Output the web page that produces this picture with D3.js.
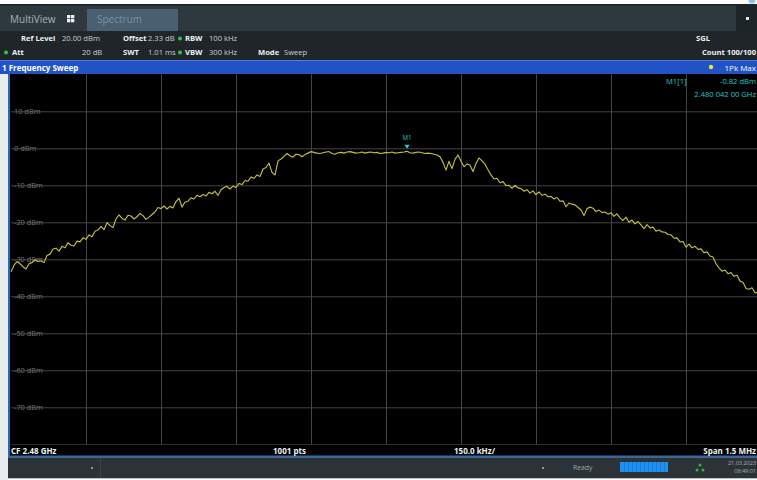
<!DOCTYPE html>
<html><head><meta charset="utf-8">
<script src="https://cdn.jsdelivr.net/npm/d3@7"></script>
<style>
html,body{margin:0;padding:0;background:#fff;overflow:hidden}
svg{display:block;font-family:"Open Sans","Noto Sans",sans-serif}
</style></head><body>
<svg id="chart" width="757" height="480"></svg>
<script>
// Sweep setup
const centerFreqKHz = 2480000;
const spanKHz = 1500;
const sweepStepKHz = 6;
const sweepPoints = 1001;
const freqDivKHz = 150;
const levelTicksDbm = [10, 0, -10, -20, -30, -40, -50, -60, -70];
const gridLevelsDbm = [10, 0, -10, -20, -30, -40, -50, -60, -70, -80];
const refLevelDbm = 20;
const bottomLevelDbm = -80;

// Max-hold trace, one value per sweep step (dBm)
const traceDbm = [
  -33.4,-31.6,-30.6,-31.2,-32.0,-32.6,-31.2,-30.9,-30.1,-30.6,
  -30.4,-30.9,-29.0,-28.6,-27.2,-27.0,-27.8,-26.5,-26.9,-25.5,
  -26.2,-26.4,-25.1,-25.3,-24.2,-24.6,-23.4,-23.9,-22.4,-22.1,
  -21.1,-22.0,-20.1,-20.9,-21.4,-19.1,-18.0,-18.9,-19.4,-18.1,
  -18.3,-19.1,-18.5,-17.6,-18.2,-19.2,-18.6,-17.9,-17.2,-16.0,
  -16.3,-15.6,-16.4,-15.7,-16.1,-14.4,-13.5,-15.9,-14.5,-14.3,
  -13.4,-13.7,-12.7,-13.1,-12.5,-12.9,-11.9,-12.3,-11.6,-12.7,
  -11.2,-10.6,-10.3,-11.0,-10.2,-10.6,-9.5,-9.8,-8.7,-8.9,
  -7.8,-8.1,-7.2,-7.6,-5.6,-5.2,-4.0,-6.5,-7.2,-3.4,
  -2.9,-2.2,-1.4,-2.0,-2.4,-1.6,-1.7,-2.3,-1.7,-1.3,
  -0.9,-1.1,-1.3,-1.4,-1.2,-1.0,-0.9,-1.4,-1.6,-1.2,
  -1.1,-1.3,-1.0,-0.9,-1.1,-1.3,-1.2,-1.0,-1.3,-1.1,
  -1.0,-1.2,-1.1,-1.4,-1.3,-1.1,-1.2,-1.0,-1.3,-1.2,
  -1.1,-1.0,-0.82,-1.2,-1.3,-1.1,-1.0,-1.2,-1.4,-1.3,
  -1.4,-1.6,-1.8,-2.3,-3.8,-5.9,-3.5,-5.5,-3.0,-1.8,
  -3.5,-5.0,-4.2,-4.6,-6.3,-4.1,-2.6,-3.4,-4.3,-5.8,
  -7.2,-8.3,-8.1,-9.3,-9.0,-10.1,-10.0,-10.8,-10.0,-10.7,
  -10.9,-11.6,-11.2,-12.1,-11.5,-12.5,-11.8,-12.7,-12.4,-13.1,
  -13.0,-13.7,-13.3,-14.3,-14.2,-15.8,-14.8,-15.1,-15.3,-16.0,
  -16.6,-18.2,-16.3,-15.9,-16.2,-17.1,-16.7,-17.4,-17.2,-17.8,
  -17.4,-18.4,-17.7,-18.8,-19.5,-18.6,-20.0,-19.4,-20.4,-19.8,
  -20.7,-21.7,-20.6,-21.5,-21.3,-22.4,-22.1,-22.6,-22.7,-23.3,
  -23.4,-24.3,-24.2,-25.3,-25.2,-26.7,-25.9,-26.9,-26.5,-27.3,
  -27.2,-28.2,-28.0,-29.1,-29.4,-31.2,-32.3,-33.2,-32.9,-33.9,
  -33.6,-34.6,-34.3,-35.9,-36.2,-37.9,-38.1,-37.7,-39.0,-39.0,
  -39.5
];

// Marker M1
const markerNames = ["M1"];
const markerFreqKHz = [2480042];
const markerLevelDbm = [-0.82];

const svg = d3.select("#chart");
const W = 757, H = 480;
const plot = {left: 11, right: 761, top: 74.3, bottom: 444.3};

const fStart = centerFreqKHz - spanKHz / 2;
const traceFreqKHz = traceDbm.map((_, i) => fStart + i * sweepStepKHz);

const x = d3.scaleLinear().domain([fStart, fStart + spanKHz]).range([plot.left, plot.right]);
const y = d3.scaleLinear().domain([bottomLevelDbm, refLevelDbm]).range([plot.bottom, plot.top]);

// ---------- window chrome ----------
svg.append("rect").attr("width", W).attr("height", H).attr("fill", "#ffffff");
// tab strip
svg.append("rect").attr("x", 0).attr("y", 5).attr("width", W).attr("height", 26).attr("fill", "#2e383f");
svg.append("rect").attr("x", 0).attr("y", 4).attr("width", W).attr("height", 1.5).attr("fill", "#1b2125");
svg.append("rect").attr("x", 87).attr("y", 9).attr("width", 91).attr("height", 22).attr("fill", "#4a5f70");
svg.append("rect").attr("x", 736).attr("y", 5).attr("width", 21).attr("height", 26).attr("fill", "#1d2428");
svg.append("rect").attr("x", 746).attr("y", 17).attr("width", 3).attr("height", 3).attr("fill", "#e8e8e8");
svg.append("circle").attr("cx", 752).attr("cy", 0).attr("r", 3.5).attr("fill", "#8fc3e6");
svg.append("text").attr("x", 10).attr("y", 23).attr("font-size", 10).attr("fill", "#a9b4ba").text("MultiView");
const icon = svg.append("g").attr("transform", "translate(67,15)");
[[0,0],[4,0],[0,4],[4,4]].forEach(([a,b]) => icon.append("rect").attr("x", a).attr("y", b).attr("width", 3.3).attr("height", 3.3).attr("fill", "#eef2f4"));
svg.append("text").attr("x", 97).attr("y", 23).attr("font-size", 10).attr("fill", "#7a93a4").text("Spectrum");

// settings block
svg.append("rect").attr("x", 0).attr("y", 31).attr("width", W).attr("height", 29).attr("fill", "#1f2529");
const info = svg.append("g").attr("font-size", 7.6).attr("fill", "#dfe3e6");
function lbl(t, xx, yy, bold) {
  info.append("text").attr("x", xx).attr("y", yy).attr("font-weight", bold ? 700 : 400)
    .attr("fill", bold ? "#eef1f3" : "#c9cfd3").text(t);
}
function dot(xx, yy) { info.append("circle").attr("cx", xx).attr("cy", yy).attr("r", 2).attr("fill", "#39c052"); }
const r1 = 41, r2 = 55;
lbl("Ref Level", 21, r1, true); lbl("20.00 dBm", 62, r1, false);
lbl("Offset", 123, r1, true); lbl("2.33 dB", 148, r1, false);
dot(180, r1 - 2.6); lbl("RBW", 185, r1, true); lbl("100 kHz", 209, r1, false);
dot(6, r2 - 2.6); lbl("Att", 12, r2, true); lbl("20 dB", 82, r2, false);
lbl("SWT", 123, r2, true); lbl("1.01 ms", 148, r2, false);
dot(180, r2 - 2.6); lbl("VBW", 185, r2, true); lbl("300 kHz", 209, r2, false);
lbl("Mode", 258, r2, true); lbl("Sweep", 284, r2, false);
lbl("SGL", 696, r1, true);
info.append("text").attr("x", 756).attr("y", r2).attr("text-anchor", "end").attr("font-weight", 700).attr("fill", "#eef1f3").text("Count 100/100");

// window title bar
svg.append("rect").attr("x", 0).attr("y", 60).attr("width", W).attr("height", 14).attr("fill", "#2153c6");
svg.append("rect").attr("x", 0).attr("y", 60).attr("width", W).attr("height", 1).attr("fill", "#4f7ee0");
svg.append("text").attr("x", 2).attr("y", 70.5).attr("font-size", 8).attr("font-weight", 700).attr("fill", "#ffffff").text("1 Frequency Sweep");
svg.append("circle").attr("cx", 711).attr("cy", 67).attr("r", 2.2).attr("fill", "#e8e830");
svg.append("text").attr("x", 756).attr("y", 70.5).attr("text-anchor", "end").attr("font-size", 8).attr("fill", "#ffffff").text("1Pk Max");

// diagram pane
svg.append("rect").attr("x", 0).attr("y", 74).attr("width", 8).attr("height", 406).attr("fill", "#e9edf0");
svg.append("rect").attr("x", 8).attr("y", 74).attr("width", 2.2).attr("height", 383).attr("fill", "#1f6dbb");
svg.append("rect").attr("x", 10).attr("y", 74).attr("width", W - 10).attr("height", 382).attr("fill", "#000000");
svg.append("rect").attr("x", 8).attr("y", 455.5).attr("width", W - 8).attr("height", 1.8).attr("fill", "#1f6dbb");

svg.append("defs").append("clipPath").attr("id", "pane")
  .append("rect").attr("x", 10).attr("y", 74).attr("width", W - 10).attr("height", 371);
const pane = svg.append("g").attr("clip-path", "url(#pane)");

// grid via axes
const yGrid = d3.axisLeft(y).tickValues(gridLevelsDbm).tickSize(-(plot.right - plot.left)).tickFormat("");
pane.append("g").attr("transform", `translate(${plot.left},0)`).call(yGrid)
  .call(g => g.select(".domain").remove())
  .call(g => g.selectAll("line").attr("stroke", "#454545").attr("stroke-width", 1));
const xTicks = d3.range(1, 10).map(k => fStart + k * freqDivKHz);
const xGrid = d3.axisBottom(x).tickValues(xTicks).tickSize(-(plot.bottom - plot.top)).tickFormat("");
pane.append("g").attr("transform", `translate(0,${plot.bottom})`).call(xGrid)
  .call(g => g.select(".domain").remove())
  .call(g => g.selectAll("line").attr("stroke", "#454545").attr("stroke-width", 1));

// level labels
const yLab = d3.axisRight(y).tickValues(levelTicksDbm).tickSize(0).tickPadding(0)
  .tickFormat(d => `${d} dBm`);
pane.append("g").attr("transform", "translate(14,0)").call(yLab)
  .call(g => g.select(".domain").remove())
  .call(g => g.selectAll("text").attr("fill", "#727477").attr("font-size", 7.4)
    .attr("font-family", "'Open Sans','Noto Sans',sans-serif").attr("dy", "0.34em"));

// trace
const line = d3.line().x((d, i) => x(traceFreqKHz[i])).y(d => y(d));
pane.append("path").datum(traceDbm).attr("d", line)
  .attr("fill", "none").attr("stroke", "#bfbf3c").attr("stroke-width", 1.15).attr("stroke-linejoin", "round");

// marker
markerNames.forEach((m, i) => {
  const mx = x(markerFreqKHz[i]), my = y(markerLevelDbm[i]);
  pane.append("path").attr("d", `M${mx - 2.6},${my - 6.5}L${mx + 2.6},${my - 6.5}L${mx},${my - 2.5}Z`).attr("fill", "#27d0cf");
  pane.append("text").attr("x", mx).attr("y", my - 11).attr("text-anchor", "middle")
    .attr("font-size", 6.2).attr("fill", "#27c9c8").text(m);
});

// marker table
const mt = svg.append("g").attr("font-size", 7.6).attr("fill", "#21c7c6");
mt.append("text").attr("x", 666).attr("y", 84).text(`${markerNames[0]}[1]`);
mt.append("text").attr("x", 756).attr("y", 84).attr("text-anchor", "end").text(`${markerLevelDbm[0].toFixed(2)} dBm`);
mt.append("text").attr("x", 756).attr("y", 97).attr("text-anchor", "end").text("2.480 042 00 GHz");

// footer of diagram
const ft = svg.append("g").attr("font-size", 8).attr("font-weight", 700).attr("fill", "#eef1f3");
ft.append("text").attr("x", 11).attr("y", 453.5).text(`CF ${(centerFreqKHz / 1e6).toFixed(2)} GHz`);
ft.append("text").attr("x", 273).attr("y", 453.5).text(`${sweepPoints} pts`);
ft.append("text").attr("x", 454).attr("y", 453.5).text(`${freqDivKHz.toFixed(1)} kHz/`);
ft.append("text").attr("x", 756).attr("y", 453.5).attr("text-anchor", "end").text(`Span ${spanKHz / 1000} MHz`);

// status bar
svg.append("rect").attr("x", 8).attr("y", 457.3).attr("width", W - 8).attr("height", 21).attr("fill", "#2b3338");
svg.append("rect").attr("x", 100).attr("y", 458).attr("width", 1).attr("height", 20).attr("fill", "#3a444a");
svg.append("rect").attr("x", 91).attr("y", 467).attr("width", 2).attr("height", 2).attr("fill", "#8d969c");
svg.append("rect").attr("x", 542).attr("y", 467).attr("width", 2).attr("height", 2).attr("fill", "#8d969c");
svg.append("text").attr("x", 573).attr("y", 470).attr("font-size", 6.8).attr("fill", "#9aa4aa").text("Ready");
svg.append("rect").attr("x", 620).attr("y", 462).attr("width", 48).attr("height", 10).attr("fill", "#1f8ff0");
d3.range(1, 12).forEach(k => svg.append("rect").attr("x", 620 + k * 4).attr("y", 462).attr("width", 0.6).attr("height", 10).attr("fill", "#1670c4"));
[[700, 465], [697, 470], [703, 470]].forEach(([a, b]) => svg.append("circle").attr("cx", a).attr("cy", b).attr("r", 1.5).attr("fill", "#3cb043"));
svg.append("text").attr("x", 756).attr("y", 465).attr("text-anchor", "end").attr("font-size", 5.5).attr("fill", "#aab2b7").text("21.03.2023");
svg.append("text").attr("x", 756).attr("y", 473).attr("text-anchor", "end").attr("font-size", 5.5).attr("fill", "#aab2b7").text("08:49:01");
</script>
</body></html>
